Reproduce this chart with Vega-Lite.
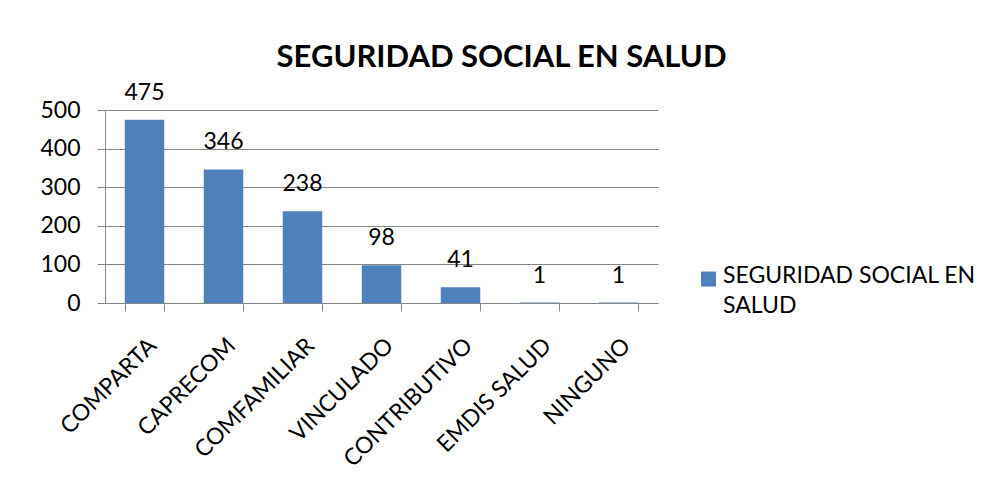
{
  "$schema": "https://vega.github.io/schema/vega-lite/v6.json",
  "autosize": "none",
  "width": 553,
  "height": 193,
  "padding": {"left": 105, "top": 110, "right": 328, "bottom": 185},
  "background": "white",
  "title": {
    "text": "SEGURIDAD SOCIAL EN SALUD",
    "font": "Lato",
    "fontSize": 31,
    "fontWeight": "bold",
    "color": "black",
    "anchor": "middle",
    "dx": 120,
    "offset": 8
  },
  "data": {
    "values": [
      {"categoria": "COMPARTA", "valor": 475, "serie": "SEGURIDAD SOCIAL EN SALUD"},
      {"categoria": "CAPRECOM", "valor": 346, "serie": "SEGURIDAD SOCIAL EN SALUD"},
      {"categoria": "COMFAMILIAR", "valor": 238, "serie": "SEGURIDAD SOCIAL EN SALUD"},
      {"categoria": "VINCULADO", "valor": 98, "serie": "SEGURIDAD SOCIAL EN SALUD"},
      {"categoria": "CONTRIBUTIVO", "valor": 41, "serie": "SEGURIDAD SOCIAL EN SALUD"},
      {"categoria": "EMDIS SALUD", "valor": 1, "serie": "SEGURIDAD SOCIAL EN SALUD"},
      {"categoria": "NINGUNO", "valor": 1, "serie": "SEGURIDAD SOCIAL EN SALUD"}
    ]
  },
  "encoding": {
    "x": {
      "field": "categoria",
      "type": "nominal",
      "sort": null,
      "scale": {"paddingInner": 0.5, "paddingOuter": 0.25},
      "axis": {
        "title": null,
        "labelAngle": -45,
        "labelAlign": "right",
        "labelBaseline": "top",
        "labelPadding": 23,
        "labelFont": "Lato",
        "labelFontSize": 23,
        "labelColor": "black",
        "tickBand": "extent",
        "tickSize": 8,
        "tickColor": "#868686",
        "domainColor": "#868686",
        "grid": false
      }
    },
    "y": {
      "field": "valor",
      "type": "quantitative",
      "scale": {"domain": [0, 500], "nice": false},
      "axis": {
        "title": null,
        "values": [0, 100, 200, 300, 400, 500],
        "labelFont": "Lato",
        "labelFontSize": 23,
        "labelColor": "black",
        "labelPadding": 17,
        "tickSize": 8,
        "tickColor": "#868686",
        "domainColor": "#868686",
        "gridColor": "#868686",
        "grid": true
      }
    }
  },
  "layer": [
    {
      "mark": {"type": "bar", "color": "#4F81BD"},
      "encoding": {
        "color": {
          "field": "serie",
          "type": "nominal",
          "scale": {"range": ["#4F81BD"]},
          "legend": {
            "title": null,
            "orient": "none",
            "legendX": 592,
            "legendY": 161,
            "padding": 0,
            "symbolType": "M-1,-1.46H1V0.54H-1Z",
            "symbolSize": 225,
            "symbolStrokeWidth": 0,
            "symbolFillColor": "#4F81BD",
            "labelFont": "Lato",
            "labelFontSize": 23,
            "labelColor": "black",
            "labelBaseline": "alphabetic",
            "labelOffset": 3,
            "labelLimit": 400,
            "labelExpr": "['SEGURIDAD SOCIAL EN', 'SALUD']",
            "encode": {"labels": {"update": {"lineHeight": {"value": 30}}}}
          }
        }
      }
    },
    {
      "mark": {"type": "text", "baseline": "alphabetic", "dy": -20, "font": "Lato", "fontSize": 23, "color": "black"},
      "encoding": {"text": {"field": "valor", "type": "quantitative"}}
    }
  ],
  "config": {"view": {"stroke": null}}
}
